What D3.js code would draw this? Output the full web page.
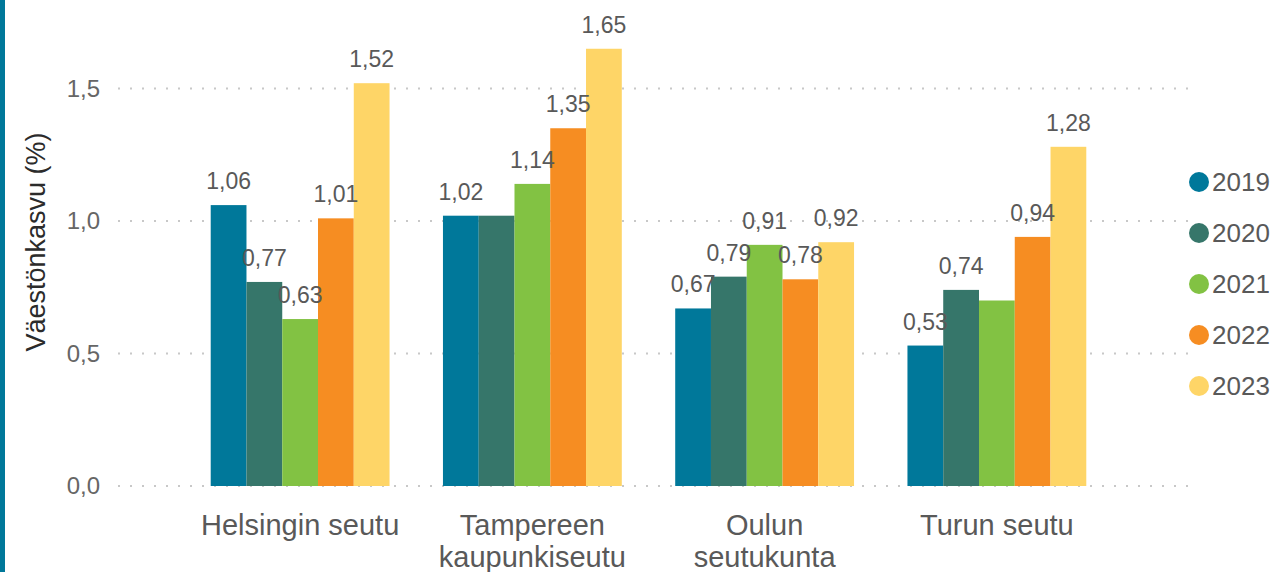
<!DOCTYPE html>
<html>
<head>
<meta charset="utf-8">
<script src="https://cdn.jsdelivr.net/npm/d3@7"></script>
<style>
  body { margin: 0; background: #fff; }
  svg { display: block; font-family: "Liberation Sans", Arial, sans-serif; }
</style>
</head>
<body>
<svg id="chart" width="1276" height="572"></svg>
<script>
// data
const regions = [
  ["Helsingin seutu"],
  ["Tampereen", "kaupunkiseutu"],
  ["Oulun", "seutukunta"],
  ["Turun seutu"],
];
const years = ["2019", "2020", "2021", "2022", "2023"];
const v2019 = [1.06, 1.02, 0.67, 0.53];
const v2020 = [0.77, 1.02, 0.79, 0.74];
const v2021 = [0.63, 1.14, 0.91, 0.70];
const v2022 = [1.01, 1.35, 0.78, 0.94];
const v2023 = [1.52, 1.65, 0.92, 1.28];
// labels that the original chart left out (overlap)
const hiddenLabels = ["1-2020", "3-2021"];
const yTicks = [0, 0.5, 1.0, 1.5];
const colors = ["#00789a", "#36766a", "#82c243", "#f68d22", "#fed567"];

const series = [v2019, v2020, v2021, v2022, v2023];
const rows = [];
regions.forEach((r, i) => {
  years.forEach((yr, j) => {
    rows.push({ region: i, year: yr, value: series[j][i], color: colors[j] });
  });
});

const svg = d3.select("#chart");
const fmt = v => d3.format(".2f")(v).replace(".", ",");
const fmtTick = v => d3.format(".1f")(v).replace(".", ",");

const x = d3.scaleBand()
  .domain(regions.map((d, i) => i))
  .range([184, 1113])
  .paddingInner(0.23)
  .paddingOuter(0.115);
const xi = d3.scaleBand()
  .domain(years)
  .range([0, x.bandwidth()]);
const y = d3.scaleLinear()
  .domain([0, 1.5])
  .range([486, 88.5]);

// left accent border
svg.append("rect")
  .attr("x", 0).attr("y", 0)
  .attr("width", 5).attr("height", 572)
  .attr("fill", "#00789a");

// gridlines (dotted)
svg.append("g")
  .selectAll("line").data(yTicks)
  .join("line")
  .attr("x1", 118).attr("x2", 1190)
  .attr("y1", d => y(d)).attr("y2", d => y(d))
  .attr("stroke", "#c8c8c8")
  .attr("stroke-width", 2)
  .attr("stroke-dasharray", "2,10");

// y axis tick labels
svg.append("g")
  .selectAll("text").data(yTicks)
  .join("text")
  .attr("x", 100)
  .attr("y", d => y(d))
  .attr("dy", "0.35em")
  .attr("text-anchor", "end")
  .attr("font-size", 24)
  .attr("fill", "#666")
  .text(fmtTick);

// y axis title
svg.append("text")
  .attr("transform", "translate(45,242) rotate(-90)")
  .attr("text-anchor", "middle")
  .attr("font-size", 27)
  .attr("fill", "#2b2b2b")
  .text("Väestönkasvu (%)");

// bars
svg.append("g")
  .selectAll("rect").data(rows)
  .join("rect")
  .attr("x", d => x(d.region) + xi(d.year))
  .attr("y", d => y(d.value))
  .attr("width", xi.bandwidth())
  .attr("height", d => y(0) - y(d.value))
  .attr("fill", d => d.color);

// value labels
svg.append("g")
  .selectAll("text")
  .data(rows.filter(d => !hiddenLabels.includes(d.region + "-" + d.year)))
  .join("text")
  .attr("x", d => x(d.region) + xi(d.year) + xi.bandwidth() / 2)
  .attr("y", d => y(d.value) - 16)
  .attr("text-anchor", "middle")
  .attr("font-size", 23)
  .attr("fill", "#595959")
  .text(d => fmt(d.value));

// category labels
const cat = svg.append("g")
  .selectAll("text").data(regions)
  .join("text")
  .attr("x", (d, i) => x(i) + x.bandwidth() / 2)
  .attr("y", 535)
  .attr("text-anchor", "middle")
  .attr("font-size", 29)
  .attr("fill", "#595959");
cat.selectAll("tspan").data(d => d)
  .join("tspan")
  .attr("x", function() { return d3.select(this.parentNode).attr("x"); })
  .attr("dy", (d, i) => i === 0 ? 0 : 32)
  .text(d => d);

// legend
const leg = svg.append("g")
  .selectAll("g").data(years)
  .join("g")
  .attr("transform", (d, i) => `translate(1199,${182 + i * 51})`);
leg.append("circle")
  .attr("r", 10)
  .attr("fill", (d, i) => colors[i]);
leg.append("text")
  .attr("x", 13)
  .attr("dy", "0.36em")
  .attr("font-size", 26)
  .attr("fill", "#595959")
  .text(d => d);
</script>
</body>
</html>
